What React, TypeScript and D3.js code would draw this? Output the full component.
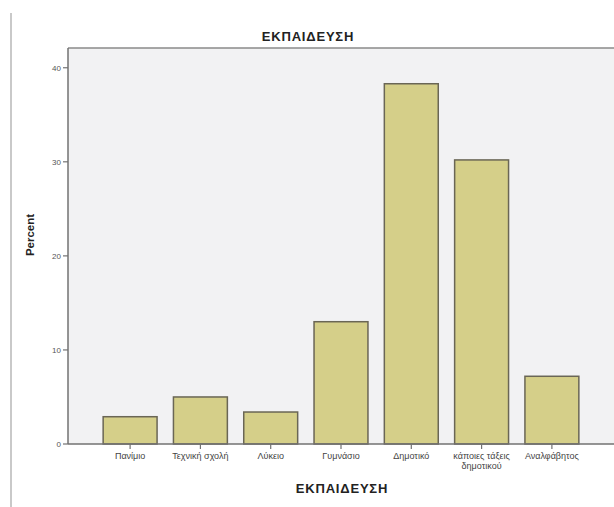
import React from "react";
import * as d3 from "d3";

const categories = [
  "Πανίμιο",
  "Τεχνική σχολή",
  "Λύκειο",
  "Γυμνάσιο",
  "Δημοτικό",
  "κάποιες τάξεις|δημοτικού",
  "Αναλφάβητος",
];
const percents = [2.9, 5.0, 3.4, 13.0, 38.3, 30.2, 7.2];
const yTicks = [0, 10, 20, 30, 40];

const W = 614;
const H = 507;
const left = 68;
const right = 614;
const top = 48;
const bottom = 444;

export default function App() {
  const x = d3
    .scaleBand<string>()
    .domain(categories)
    .range([left, right])
    .paddingInner(0.233)
    .paddingOuter(0.5);
  const y = d3.scaleLinear().domain([0, 42.1]).range([bottom, top]);
  const font = "Arial, 'Liberation Sans', sans-serif";

  return (
    <svg
      width={W}
      height={H}
      style={{ position: "absolute", left: 0, top: 0, background: "#fff" }}
      fontFamily={font}
    >
      <line x1={11} x2={11} y1={13} y2={H} stroke="#c9c9c9" strokeWidth={2} />
      <rect x={left} y={top} width={right - left} height={bottom - top} fill="#f2f2f3" />
      <line x1={left} x2={right} y1={top} y2={top} stroke="#8a8a8a" strokeWidth={1.5} />
      <text x={308} y={41} textAnchor="middle" fontSize={13} letterSpacing={0.8} fontWeight="bold" fill="#222">
        ΕΚΠΑΙΔΕΥΣΗ
      </text>
      {categories.map((c, i) => (
        <rect
          key={c}
          x={x(c)!}
          y={y(percents[i])}
          width={x.bandwidth()}
          height={bottom - y(percents[i])}
          fill="#d5cf89"
          stroke="#6a6655"
          strokeWidth={1.5}
        />
      ))}
      <line x1={left} x2={left} y1={top} y2={bottom} stroke="#727272" strokeWidth={1.5} />
      <line x1={left} x2={right} y1={bottom} y2={bottom} stroke="#727272" strokeWidth={1.5} />
      {yTicks.map((t) => (
        <g key={t}>
          <line x1={left - 5} x2={left} y1={y(t)} y2={y(t)} stroke="#727272" strokeWidth={1.2} />
          <text x={left - 7} y={y(t) + 3} textAnchor="end" fontSize={8} fill="#555">
            {t}
          </text>
        </g>
      ))}
      {categories.map((c) => {
        const cx = x(c)! + x.bandwidth() / 2;
        const lines = c.split("|");
        return (
          <g key={c}>
            <line x1={cx} x2={cx} y1={bottom} y2={bottom + 5} stroke="#727272" strokeWidth={1.2} />
            {lines.map((l, j) => (
              <text key={j} x={cx} y={459 + j * 10} textAnchor="middle" fontSize={9} fill="#444">
                {l}
              </text>
            ))}
          </g>
        );
      })}
      <text x={342} y={493} textAnchor="middle" fontSize={13} letterSpacing={0.8} fontWeight="bold" fill="#222">
        ΕΚΠΑΙΔΕΥΣΗ
      </text>
      <text
        transform={`translate(34, ${235}) rotate(-90)`}
        textAnchor="middle"
        fontSize={11.5}
        fontWeight="bold"
        fill="#222"
      >
        Percent
      </text>
    </svg>
  );
}
